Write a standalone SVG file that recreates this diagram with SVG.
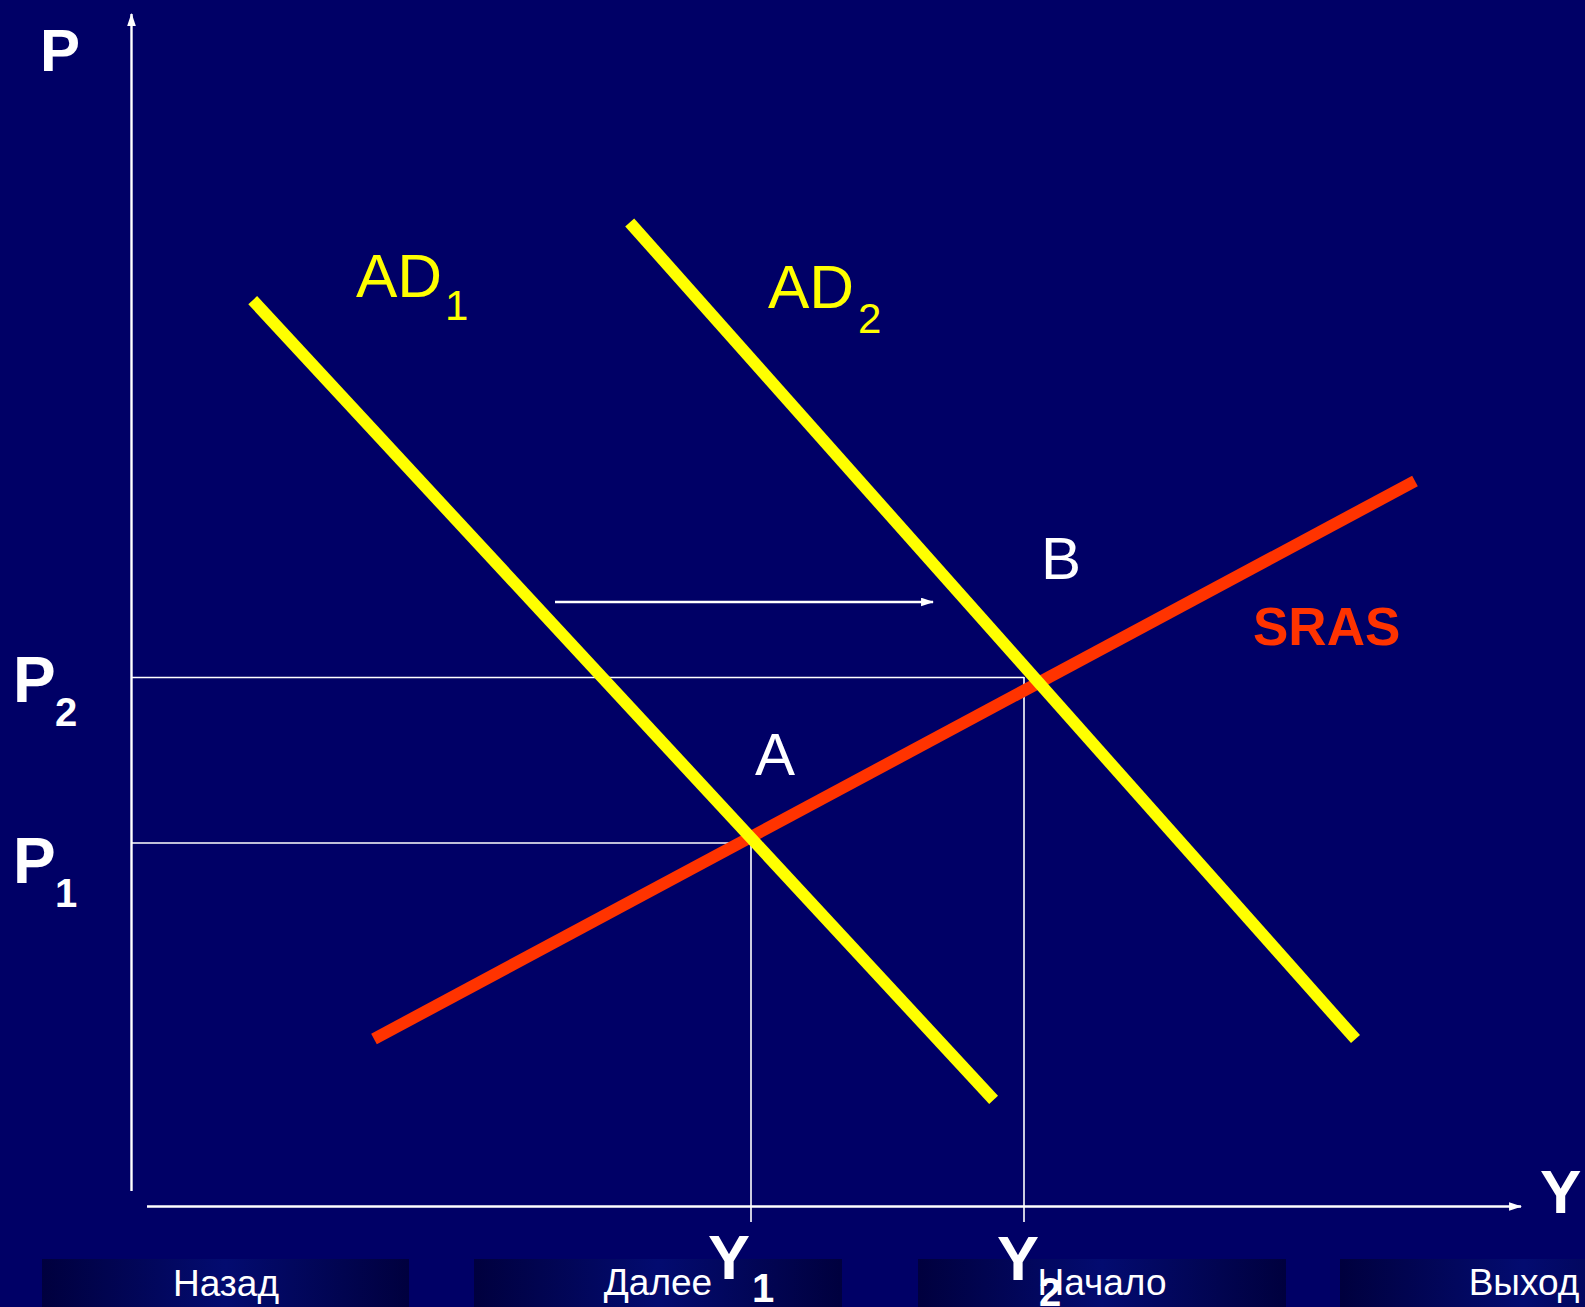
<svg xmlns="http://www.w3.org/2000/svg" width="1585" height="1307" viewBox="0 0 1585 1307">
<style>
.guide{stroke:#ffffff;stroke-width:1.6;fill:none}
.axis{stroke:#ffffff;stroke-width:2.4;fill:none}
.ad{stroke:#ffff00;stroke-width:12;fill:none}
.sras{stroke:#ff3300;stroke-width:12;fill:none}
.lbl{font-family:"Liberation Sans",Arial,sans-serif;fill:#ffffff}
.b{font-weight:bold}
.yel{fill:#ffff00}
.btn{font-family:"Liberation Sans",Arial,sans-serif;fill:#ffffff;font-size:37px;text-anchor:middle}
</style>
<defs>
<linearGradient id="btng" x1="0" y1="0" x2="1" y2="0">
<stop offset="0" stop-color="#00003e"/>
<stop offset="0.5" stop-color="#030b70"/>
<stop offset="1" stop-color="#00003e"/>
</linearGradient>
<marker id="ah" viewBox="0 0 12 8" refX="11" refY="4" markerWidth="13" markerHeight="9" markerUnits="userSpaceOnUse" orient="auto">
<path d="M0,0 L12,4 L0,8 Z" fill="#ffffff"/>
</marker>
</defs>
<rect x="0" y="0" width="1585" height="1307" fill="#000066"/>

<g id="connectors">
<line class="axis" x1="131.5" y1="1191" x2="131.5" y2="14" marker-end="url(#ah)"/>
<line class="axis" x1="147" y1="1206.5" x2="1521" y2="1206.5" marker-end="url(#ah)"/>
<line class="guide" x1="131" y1="677.5" x2="1024" y2="677.5"/>
<line class="guide" x1="1024" y1="677" x2="1024" y2="1222"/>
<line class="guide" x1="131" y1="843" x2="751" y2="843"/>
<line class="guide" x1="751" y1="843" x2="751" y2="1222"/>
<line class="axis" x1="555" y1="602" x2="933" y2="602" stroke-width="2" marker-end="url(#ah)"/>
</g>

<g id="sras">
<line class="sras" x1="374" y1="1039" x2="1415" y2="481"/>
<text class="lbl b" x="1253" y="645" font-size="53" style="fill:#ff3300">SRAS</text>
</g>
<g id="ad1">
<line class="ad" x1="252.7" y1="300.2" x2="993.6" y2="1099.8"/>
<text class="lbl yel" x="356" y="297" font-size="62">AD<tspan font-size="42" x="445" y="320">1</tspan></text>
</g>
<g id="ad2">
<line class="ad" x1="629.7" y1="222.4" x2="1355.5" y2="1039.1"/>
<text class="lbl yel" x="768" y="308" font-size="62">AD<tspan font-size="42" x="858" y="333">2</tspan></text>
</g>

<g id="pointA"><text class="lbl" x="755" y="775" font-size="60">A</text></g>
<g id="pointB"><text class="lbl" x="1041" y="579" font-size="60">B</text></g>

<g id="axis-labels">
<text class="lbl b" x="40" y="71" font-size="60">P</text>
<text class="lbl b" x="13" y="702" font-size="64">P<tspan font-size="40" x="55" y="726">2</tspan></text>
<text class="lbl b" x="13" y="883" font-size="64">P<tspan font-size="40" x="55" y="907">1</tspan></text>
<text class="lbl b" x="1540" y="1213" font-size="62">Y</text>
</g>

<g id="buttons">
<rect x="42" y="1259" width="367" height="48" fill="url(#btng)"/>
<rect x="474" y="1259" width="368" height="48" fill="url(#btng)"/>
<rect x="918" y="1259" width="368" height="48" fill="url(#btng)"/>
<rect x="1340" y="1259" width="367" height="48" fill="url(#btng)"/>
<text class="btn" x="226" y="1296">Назад</text>
<text class="btn" x="658" y="1295">Далее</text>
<text class="btn" x="1102" y="1295">Начало</text>
<text class="btn" x="1524" y="1295">Выход</text>
</g>

<g id="y-labels">
<text class="lbl b" x="708" y="1279" font-size="63">Y<tspan font-size="40" x="752" y="1302">1</tspan></text>
<text class="lbl b" x="997" y="1280" font-size="63">Y<tspan font-size="40" x="1039" y="1306">2</tspan></text>
</g>
</svg>
